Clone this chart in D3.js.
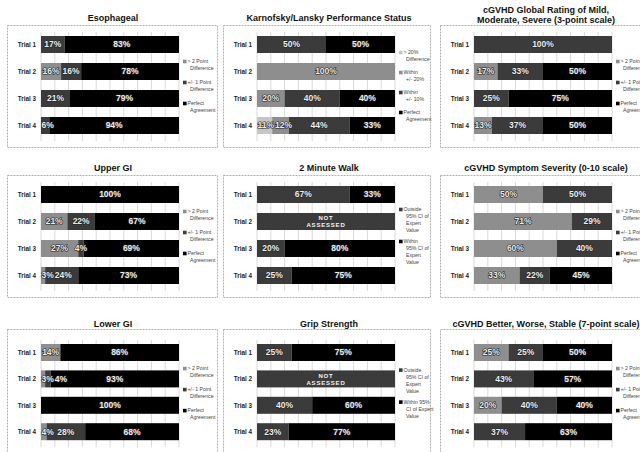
<!DOCTYPE html>
<html><head><meta charset="utf-8">
<script src="https://cdn.jsdelivr.net/npm/d3@7"></script>
<style>
html,body{margin:0;padding:0;background:#fff;}
svg{display:block;font-family:"Liberation Sans",Arial,sans-serif;}
</style></head><body>
<svg id="chart" width="640" height="452"></svg>
<script>
const trials = ["Trial 1", "Trial 2", "Trial 3", "Trial 4"];

// Percent of raters in each agreement class, one row per trial (null = not assessed)
const esophageal = [[0, 17, 83], [16, 16, 78], [0, 21, 79], [0, 6, 94]];
const karnofsky = [[0, 0, 50, 50], [0, 100, 0, 0], [0, 20, 40, 40], [11, 12, 44, 33]];
const globalRating = [[0, 100, 0], [17, 33, 50], [0, 25, 75], [13, 37, 50]];
const upperGI = [[0, 0, 100], [21, 22, 67], [27, 4, 69], [3, 24, 73]];
const twoMinuteWalk = [[67, 33], null, [20, 80], [25, 75]];
const symptomSeverity = [[50, 50, 0], [71, 29, 0], [60, 40, 0], [33, 22, 45]];
const lowerGI = [[14, 0, 86], [3, 4, 93], [0, 0, 100], [4, 28, 68]];
const gripStrength = [[25, 75], null, [40, 60], [23, 77]];
const betterWorse = [[25, 25, 50], [0, 43, 57], [20, 40, 40], [0, 37, 63]];

const panelTitles = [
  ["Esophageal"],
  ["Karnofsky/Lansky Performance Status"],
  ["cGVHD Global Rating of Mild,", "Moderate, Severe (3-point scale)"],
  ["Upper GI"],
  ["2 Minute Walk"],
  ["cGVHD Symptom Severity (0-10 scale)"],
  ["Lower GI"],
  ["Grip Strength"],
  ["cGVHD Better, Worse, Stable (7-point scale)"]
];

const pointLegend = [["> 2 Point", "Difference"], ["+/- 1 Point", "Difference"], ["Perfect", "Agreement"]];
const karnofskyLegend = [["> 20%", "Difference"], ["Within", "+/- 20%"], ["Within", "+/- 10%"], ["Perfect", "Agreement"]];
const walkLegend = [["Outside", "95% CI of", "Expert", "Value"], ["Within", "95% CI of", "Expert", "Value"]];
const gripLegend = [["Outside", "95% CI of", "Expert", "Value"], ["Within 95%", "CI of Expert", "Value"]];
const notAssessedLabel = ["NOT", "ASSESSED"];

const pointColors = ["#8e8e8e", "#3b3b3b", "#000000"];
const karnofskyColors = ["#c6c6c6", "#8e8e8e", "#3b3b3b", "#000000"];
const ciColors = ["#3b3b3b", "#000000"];

const panels = [
  {rows: esophageal, legend: pointLegend, colors: pointColors, gap: 7},
  {rows: karnofsky, legend: karnofskyLegend, colors: karnofskyColors, gap: 6},
  {rows: globalRating, legend: pointLegend, colors: pointColors, gap: 7},
  {rows: upperGI, legend: pointLegend, colors: pointColors, gap: 7},
  {rows: twoMinuteWalk, legend: walkLegend, colors: ciColors, gap: 4},
  {rows: symptomSeverity, legend: pointLegend, colors: pointColors, gap: 7},
  {rows: lowerGI, legend: pointLegend, colors: pointColors, gap: 7},
  {rows: gripStrength, legend: gripLegend, colors: ciColors, gap: 4},
  {rows: betterWorse, legend: pointLegend, colors: pointColors, gap: 7}
].map((p, i) => Object.assign(p, {title: panelTitles[i]}));

// Grid geometry
const colLeft = [7, 223, 440];
const colWidth = [210, 207, 215];
const rowFrameTop = [25, 175, 329];
const rowFrameH = [122, 122, 130];
const rowTitleY = [18, 168, 324];
const rowBarTop = [36, 186, 344];
const rowStep = [27, 27, 26.4];
const barH = 17;

const svg = d3.select("#chart");

panels.forEach((p, i) => {
  const c = i % 3, r = Math.floor(i / 3);
  const left = colLeft[c];
  const g = svg.append("g");

  // frame
  g.append("rect")
    .attr("x", left + 0.5).attr("y", rowFrameTop[r] + 0.5)
    .attr("width", colWidth[c]).attr("height", rowFrameH[r])
    .attr("fill", "none").attr("stroke", "#a8a8a8")
    .attr("stroke-width", 0.9).attr("stroke-dasharray", "2,1");

  // title
  const tLines = p.title;
  const tCenter = left + 106;
  tLines.forEach((t, k) => {
    const y = tLines.length === 1 ? rowTitleY[r] : rowTitleY[r] - 8 + k * 10;
    g.append("text").attr("x", tCenter).attr("y", y).attr("dy", "0.35em")
      .attr("text-anchor", "middle").attr("font-size", 9).attr("font-weight", "bold")
      .attr("fill", "#111").text(t);
  });

  const x0 = left + 34, x1 = left + 172;
  const x = d3.scaleLinear().domain([0, 1]).range([x0, x1]);
  const step = rowStep[r], gapPx = step - barH;
  const y = d3.scaleBand().domain(trials)
    .range([rowBarTop[r] - gapPx / 2, rowBarTop[r] - gapPx / 2 + 4 * step])
    .paddingInner(gapPx / step).paddingOuter(gapPx / step / 2);

  // vertical gridlines
  const gTop = y(trials[0]) - 4, gBot = y(trials[3]) + barH + 7;
  g.append("g").selectAll("line").data(d3.range(0, 11).map(v => v / 10)).join("line")
    .attr("x1", d => x(d)).attr("x2", d => x(d))
    .attr("y1", gTop).attr("y2", gBot)
    .attr("stroke", "#cfcfcf").attr("stroke-width", 0.8);

  // trial labels
  g.append("g").selectAll("text").data(trials).join("text")
    .attr("x", x0 - 5).attr("y", d => y(d) + barH / 2).attr("dy", "0.35em")
    .attr("text-anchor", "end").attr("font-size", 6.3).attr("font-weight", "bold")
    .attr("fill", "#222").text(d => d);

  const nKeys = p.colors.length;
  const keys = d3.range(nKeys);
  const assessed = p.rows.map((row, j) => ({trial: trials[j], row}))
    .filter(d => d.row !== null);
  const table = assessed.map(d => {
    const o = {trial: d.trial};
    keys.forEach(k => o[k] = d.row[k]);
    return o;
  });
  const series = d3.stack().keys(keys).offset(d3.stackOffsetExpand)(table);

  // stacked segments
  series.forEach(s => {
    g.append("g").selectAll("rect").data(s.filter(d => d[1] - d[0] > 0)).join("rect")
      .attr("x", d => x(d[0])).attr("width", d => x(d[1]) - x(d[0]))
      .attr("y", d => y(d.data.trial)).attr("height", barH)
      .attr("fill", p.colors[s.key]);
  });

  // not-assessed rows
  p.rows.forEach((row, j) => {
    if (row !== null) return;
    const t = trials[j];
    g.append("rect").attr("x", x(0)).attr("width", x(1) - x(0))
      .attr("y", y(t)).attr("height", barH).attr("fill", p.colors[0]);
    notAssessedLabel.forEach((w, k) => {
      g.append("text").attr("x", (x0 + x1) / 2).attr("y", y(t) + barH / 2 - 3.5 + k * 7)
        .attr("dy", "0.35em").attr("text-anchor", "middle")
        .attr("font-size", 6).attr("font-weight", "bold").attr("letter-spacing", 0.8)
        .attr("fill", "#f4f4f4").text(w);
    });
  });

  // value labels, kept inside the bar and clear of each other
  table.forEach(rowObj => {
    let prevRight = x0 + 0.5;
    series.forEach(s => {
      const d = s.find(e => e.data.trial === rowObj.trial);
      const v = rowObj[s.key];
      if (!v) return;
      const txt = g.append("text").attr("font-size", 8.5).attr("font-weight", "bold")
        .attr("fill", "#ececec").attr("stroke", "#262626").attr("stroke-width", 1.2)
        .attr("paint-order", "stroke")
        .attr("y", y(rowObj.trial) + barH / 2).attr("dy", "0.35em")
        .text(v + "%");
      const w = txt.node().getComputedTextLength();
      const cx = x((d[0] + d[1]) / 2);
      const lx = Math.max(cx - w / 2, prevRight);
      txt.attr("x", lx);
      prevRight = lx + w + 1;
    });
  });

  // legend
  const lh = 7;
  const nLines = d3.sum(p.legend, l => l.length);
  const total = nLines * lh + (p.legend.length - 1) * p.gap;
  const mid = y(trials[0]) + (y(trials[3]) + barH - y(trials[0])) / 2;
  let ly = mid - total / 2 + 1;
  const lx = x1 + 4;
  p.legend.forEach((item, k) => {
    g.append("rect").attr("x", lx).attr("y", ly + lh / 2 - 1.8).attr("width", 3.6).attr("height", 3.6)
      .attr("fill", p.colors[k]);
    item.forEach((t, m) => {
      g.append("text").attr("x", lx + (m === 0 ? 4.5 : 7)).attr("y", ly + lh / 2 + m * lh)
        .attr("dy", "0.35em").attr("font-size", 5.2).attr("fill", "#444").text(t);
    });
    ly += item.length * lh + p.gap;
  });
});
</script>
</body></html>
